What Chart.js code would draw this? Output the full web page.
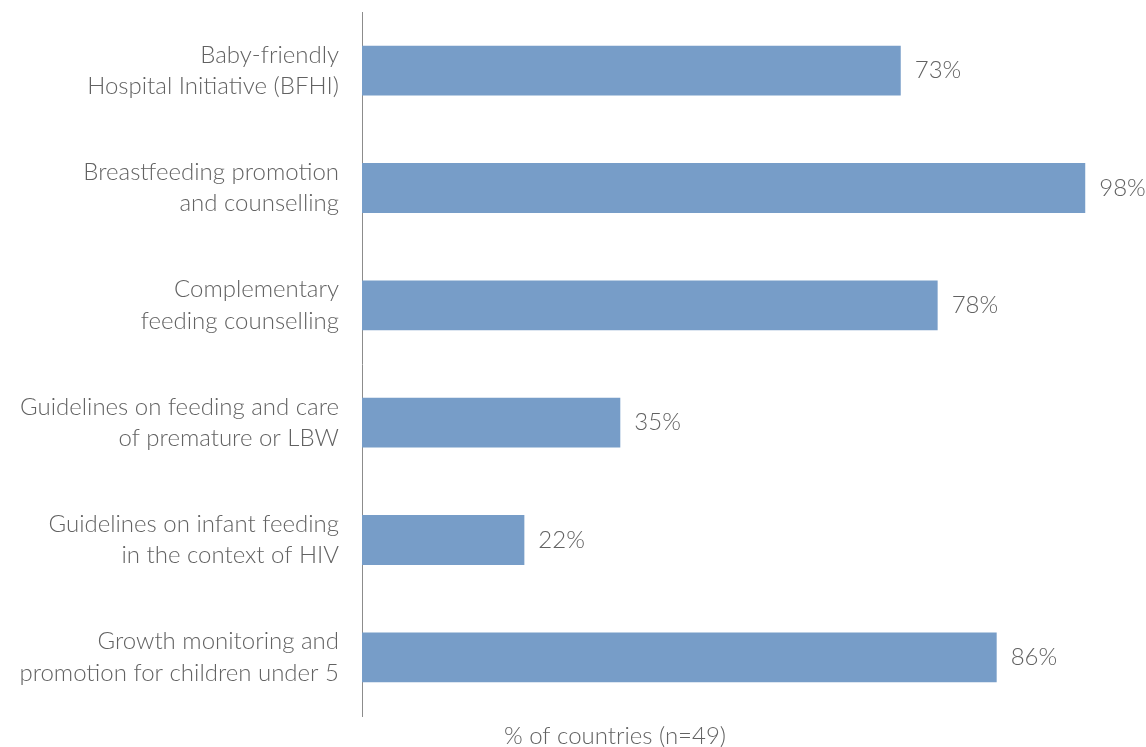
<!DOCTYPE html>
<html>
<head>
<meta charset="utf-8">
<script src="https://cdn.jsdelivr.net/npm/chart.js@4"></script>
<style>
  html, body { margin: 0; padding: 0; background: #fff; }
  canvas { display: block; }
</style>
</head>
<body>
<canvas id="myChart" width="1146" height="747"></canvas>
<script>
const categories = [
  ['Baby-friendly', 'Hospital Initiative (BFHI)'],
  ['Breastfeeding promotion', 'and counselling'],
  ['Complementary', 'feeding counselling'],
  ['Guidelines on feeding and care', 'of premature or LBW'],
  ['Guidelines on infant feeding', 'in the context of HIV'],
  ['Growth monitoring and', 'promotion for children under 5']
];
const percentValues = [73, 98, 78, 35, 22, 86];
const axisTitle = '% of countries (n=49)';

const fontFamily = 'Lato, "Open Sans", sans-serif';
const textColor = '#626262';

// value labels to the right of each bar + the axis title under the plot
const barLabels = {
  id: 'barLabels',
  afterDatasetsDraw(chart) {
    const ctx = chart.ctx;
    const meta = chart.getDatasetMeta(0);
    ctx.save();
    ctx.font = '300 24px ' + fontFamily;
    ctx.fillStyle = textColor;
    ctx.textBaseline = 'middle';
    ctx.textAlign = 'left';
    meta.data.forEach((bar, i) => {
      ctx.fillText(percentValues[i] + '%', bar.x + 14, bar.y);
    });
    ctx.textAlign = 'center';
    ctx.fillText(axisTitle, 615, 736);
    ctx.restore();
  }
};

const ctx = document.getElementById('myChart').getContext('2d');
new Chart(ctx, {
  type: 'bar',
  data: {
    labels: categories,
    datasets: [{
      data: percentValues,
      backgroundColor: '#779dc8',
      barPercentage: 0.85,
      categoryPercentage: 0.5
    }]
  },
  options: {
    indexAxis: 'y',
    responsive: false,
    animation: false,
    layout: {
      padding: { top: 12, bottom: 31, left: 0, right: 46 }
    },
    plugins: {
      legend: { display: false },
      tooltip: { enabled: false }
    },
    scales: {
      x: {
        display: false,
        min: 0,
        max: 100
      },
      y: {
        afterFit(scale) {
          scale.width = 362;
          scale.paddingTop = 0;
          scale.paddingBottom = 0;
        },
        grid: { display: false, drawTicks: false },
        border: { display: true, color: '#8c8c8c', width: 1 },
        ticks: {
          padding: 23,
          color: textColor,
          font: { family: fontFamily, size: 24, weight: '300', lineHeight: 1.3 }
        }
      }
    }
  },
  plugins: [barLabels]
});
</script>
</body>
</html>
